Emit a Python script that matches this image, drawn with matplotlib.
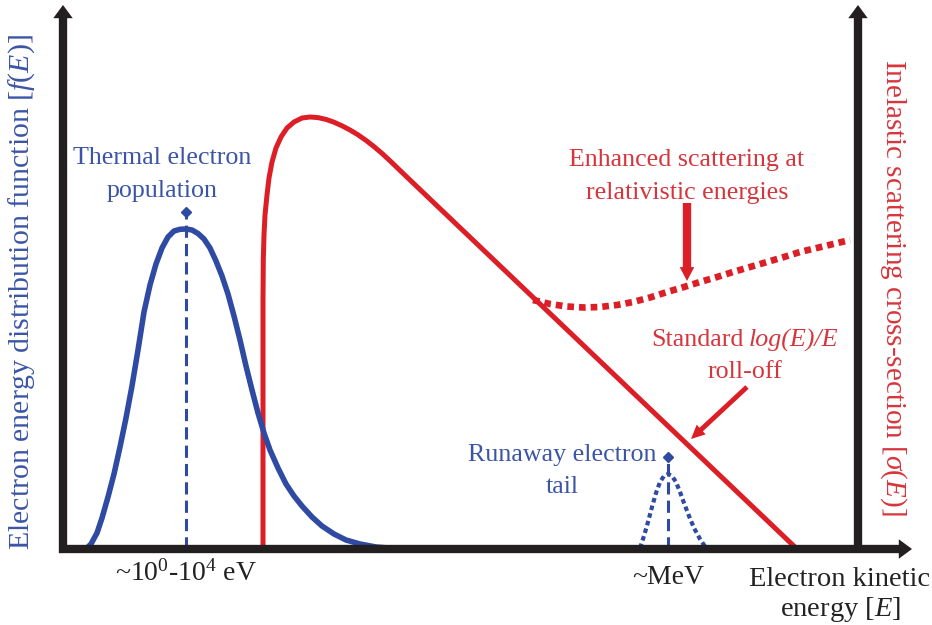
import matplotlib
matplotlib.use('Agg')
import matplotlib.pyplot as plt
from matplotlib.patches import FancyArrowPatch

plt.rcParams['font.family'] = ['Liberation Serif', 'DejaVu Serif']
plt.rcParams['mathtext.fontset'] = 'custom'
plt.rcParams['mathtext.rm'] = 'Liberation Serif'
plt.rcParams['mathtext.it'] = 'Liberation Serif:italic'

# schematic drawn in image pixel units (y grows downward)
thermal_x = [86, 91, 97, 102, 108, 114, 120, 126, 132, 138, 144, 150, 156, 162, 168, 174, 180, 186,
             192, 198, 204, 210, 216, 222, 228, 234, 240, 246, 252, 258, 264, 270, 278, 286, 294,
             302, 312, 322, 334, 346, 360, 376, 395]
thermal_y = [549, 544, 533, 518, 497, 474, 447, 418, 386, 350, 312, 285, 264, 248, 237, 231, 229.3, 229,
             230, 233.5, 239, 248, 261, 276, 294, 316, 340, 366, 390, 413, 433, 450, 468, 484, 496,
             506, 517, 526, 534, 540, 544, 547, 548.5]

tail_x = [640, 644, 648, 652, 656, 660, 664, 668, 672, 676, 680, 684, 689, 694, 700, 706]
tail_y = [548, 536, 522, 507, 493, 482, 476, 474, 476, 482, 492, 503, 516, 528, 539, 548]

sigma_x = [263, 263, 263, 263.3, 264, 265, 267, 269, 272, 276, 281, 287, 294, 302, 310, 318, 326,
           334, 342, 350, 358, 366, 374, 382, 390, 398, 406, 797]
sigma_y = [549, 400, 300, 260, 235, 215, 195, 178, 162, 148, 137, 128, 122, 118, 117, 117.6, 119.4,
           122.2, 125.8, 130, 134.8, 140.4, 146.6, 153.4, 160.8, 168.5, 176.2, 549]

relat_x = [533, 550, 567, 584, 600, 617, 633, 650, 667, 684, 700, 717, 733, 750, 767, 784, 800, 825, 850]
relat_y = [300, 304, 306.5, 307.5, 307, 305, 302, 297.5, 292, 287, 282, 277, 272, 267, 262, 257, 252, 246, 240]

peak_thermal = (186, 229)
peak_tail = (668, 474)
tick_labels = ['~10$^0$-10$^4$ eV', '~MeV']

blue = '#2f4aa2'
blue_txt = '#3b55a6'
red = '#dc1f27'
red_txt = '#d7353c'
black = '#231f20'
grey_txt = '#222222'

fig = plt.figure(figsize=(9.32, 6.25), dpi=100)
ax = fig.add_axes([0, 0, 1, 1])
ax.set_xlim(0, 932)
ax.set_ylim(625, 0)
ax.axis('off')

# curves
ax.plot(sigma_x, sigma_y, color=red, lw=3.6, solid_capstyle='butt', solid_joinstyle='round', zorder=2)
ax.plot(relat_x, relat_y, color=red, lw=4.8, dashes=(1, 0.75), zorder=2)
ax.plot(thermal_x, thermal_y, color=blue, lw=4.0, solid_joinstyle='round', zorder=3)
ax.plot(tail_x, tail_y, color=blue, lw=3.0, dashes=(1.1, 0.8), zorder=3)

# peak markers
for px, py in [peak_thermal, peak_tail]:
    ax.plot([px, px], [549, py - 14], color=blue, lw=2.2, dashes=(4, 2), zorder=3)
    ax.plot(px, py - 17, marker='D', ms=5, color=blue, zorder=4)

# axes with arrows
def axis_arrow(p0, p1):
    ax.add_patch(FancyArrowPatch(p0, p1, arrowstyle='simple,head_length=0.95,head_width=1.4,tail_width=0.6',
                                 mutation_scale=10, color=black, lw=0, shrinkA=0, shrinkB=0,
                                 zorder=5, clip_on=False))

axis_arrow((63, 553), (63, 5))
axis_arrow((59, 549), (912, 549))
axis_arrow((858, 553), (858, 5))

# annotation arrows
ax.add_patch(FancyArrowPatch((687, 203), (687, 281), arrowstyle='simple,head_length=1.0,head_width=1.05,tail_width=0.6',
                             mutation_scale=10, color=red, lw=0, shrinkA=0, shrinkB=0, zorder=4))
ax.add_patch(FancyArrowPatch((747, 387), (691, 439), arrowstyle='simple,head_length=1.0,head_width=0.95,tail_width=0.35',
                             mutation_scale=10, color=red, lw=0, shrinkA=0, shrinkB=0, zorder=4))

# text, one line at a time
fs = 18.7
def label(x, y, s, color, size=fs, ha='center', style='normal'):
    ax.text(x, y, s, color=color, fontsize=size, ha=ha, va='center', style=style)

label(162, 158, 'Thermal electron', blue_txt)
label(162, 191, 'population', blue_txt)
label(687, 160, 'Enhanced scattering at', red_txt)
label(687, 193, 'relativistic energies', red_txt)
label(744, 340, 'Standard', red_txt, ha='right')
label(749, 340, 'log(E)/E', red_txt, ha='left', style='italic')
label(745, 372, 'roll-off', red_txt)
label(562, 455, 'Runaway electron', blue_txt)
label(562, 487, 'tail', blue_txt)

label(peak_thermal[0], 573, tick_labels[0], grey_txt, 20)
label(peak_tail[0], 577, tick_labels[1], grey_txt, 20)
label(840, 580, 'Electron kinetic', grey_txt, 20.5)
label(840, 610, 'energy [$E$]', grey_txt, 20.5)

ax.text(22, 292, 'Electron energy distribution function [$f(E)$]', color=blue_txt, fontsize=21.5,
        rotation=90, ha='center', va='center')
ax.text(893, 287, 'Inelastic scattering cross-section [$\\sigma(E)$]', color=red_txt, fontsize=21,
        rotation=-90, ha='center', va='center')

fig.savefig('out.png', dpi=100)
